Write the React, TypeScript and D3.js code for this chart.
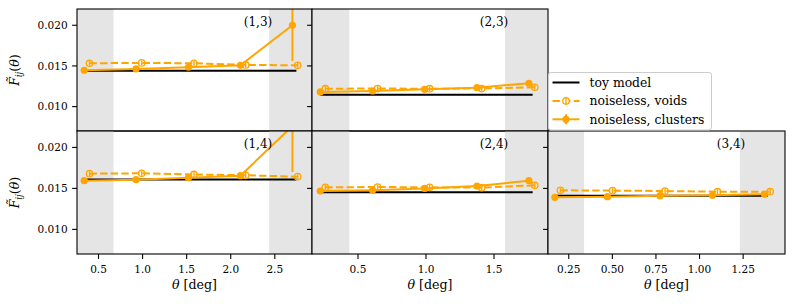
import React from "react";
import * as d3 from "d3";

// theta bins [deg], one array per column of panels
const thetaClusters = [
  [0.338, 0.926, 1.52, 2.11, 2.7],
  [0.223, 0.607, 0.99, 1.375, 1.757],
  [0.17, 0.472, 0.773, 1.074, 1.372],
];
const thetaVoids = [
  [0.398, 0.99, 1.583, 2.17, 2.76],
  [0.26, 0.644, 1.027, 1.41, 1.8],
  [0.202, 0.501, 0.802, 1.103, 1.405],
];
const thetaToy = [
  [0.31, 0.926, 1.52, 2.11, 2.745],
  [0.223, 0.607, 0.99, 1.375, 1.784],
  [0.17, 0.472, 0.773, 1.074, 1.392],
];

// panels, in order: (1,3) (2,3) (1,4) (2,4) (3,4)
const panelNames = ["(1,3)", "(2,3)", "(1,4)", "(2,4)", "(3,4)"];
const panelRow = [0, 0, 1, 1, 1];
const panelCol = [0, 1, 0, 1, 2];

const clusters = [
  [0.01447, 0.01463, 0.01484, 0.01508, 0.02],
  [0.0118, 0.01192, 0.01213, 0.01233, 0.01287],
  [0.01594, 0.01606, 0.0163, 0.01655, 0.0226],
  [0.01468, 0.01477, 0.015, 0.01529, 0.01594],
  [0.01391, 0.01399, 0.01411, 0.01416, 0.01428],
];
const clustersErr = [
  [0.0002, 0.0002, 0.0002, 0.0002, 0.0044],
  [0.0002, 0.0002, 0.0002, 0.0002, 0.0003],
  [0.0002, 0.0002, 0.0002, 0.0002, 0.0056],
  [0.0002, 0.0002, 0.0002, 0.0002, 0.0003],
  [0.0002, 0.0002, 0.0002, 0.0002, 0.0002],
];
const voids = [
  [0.01533, 0.01537, 0.01533, 0.01512, 0.01508],
  [0.0122, 0.01222, 0.0122, 0.01222, 0.01238],
  [0.0168, 0.01684, 0.0167, 0.0166, 0.01643],
  [0.01513, 0.01517, 0.01513, 0.01509, 0.01538],
  [0.01477, 0.01473, 0.01468, 0.0146, 0.0146],
];
const voidsErr = [
  [0.0003, 0.0003, 0.0003, 0.0003, 0.0003],
  [0.0003, 0.0003, 0.0003, 0.0003, 0.0003],
  [0.0003, 0.0003, 0.0003, 0.0003, 0.0003],
  [0.0003, 0.0003, 0.0003, 0.0003, 0.0003],
  [0.0003, 0.0003, 0.0003, 0.0003, 0.0003],
];
const toyModel = [
  [0.01442, 0.01442, 0.01442, 0.01442, 0.01442],
  [0.01147, 0.01147, 0.01147, 0.01147, 0.01147],
  [0.0161, 0.0161, 0.0161, 0.0161, 0.0161],
  [0.01452, 0.01452, 0.01452, 0.01452, 0.01452],
  [0.0141, 0.0141, 0.0141, 0.0141, 0.0141],
];

const xDomains = [
  [0.256, 2.922],
  [0.162, 1.897],
  [0.131, 1.49],
];
const xTicks = [
  [0.5, 1.0, 1.5, 2.0, 2.5],
  [0.5, 1.0, 1.5],
  [0.25, 0.5, 0.75, 1.0, 1.25],
];
const xTickFormat = [".1f", ".1f", ".2f"];
// grey bands: scales outside these cuts are excluded
const shadeCuts = [
  [0.67, 2.436],
  [0.436, 1.581],
  [0.338, 1.231],
];
const yDomain = [0.007, 0.022];
const yTicks = [0.01, 0.015, 0.02];
const legendLabels = ["toy model", "noiseless, voids", "noiseless, clusters"];

const W = 793;
const H = 304;
const colX = [77, 312, 548, 785];
const rowY = [9, 131, 254];
const ORANGE = "#ffa500";
const SHADE = "#e5e5e5";
const FONT = "DejaVu Serif";
const TICK = 4.9;

const Panel = ({ i }: { i: number }) => {
  const r = panelRow[i];
  const c = panelCol[i];
  const x0 = colX[c], x1 = colX[c + 1], y0 = rowY[r], y1 = rowY[r + 1];
  const x = d3.scaleLinear().domain(xDomains[c]).range([x0, x1]);
  const y = d3.scaleLinear().domain(yDomain).range([y1, y0]);
  const line = d3
    .line<number[]>()
    .x(d => x(d[0]))
    .y(d => y(d[1]));
  const clipId = `clip-${i}`;
  const fmtX = d3.format(xTickFormat[c]);
  const fmtY = d3.format(".3f");

  const toyPts = thetaToy[c].map((t, k) => [t, toyModel[i][k]]);
  const voidPts = thetaVoids[c].map((t, k) => [t, voids[i][k], voidsErr[i][k]]);
  const clPts = thetaClusters[c].map((t, k) => [t, clusters[i][k], clustersErr[i][k]]);

  return (
    <g>
      <defs>
        <clipPath id={clipId}>
          <rect x={x0} y={y0} width={x1 - x0} height={y1 - y0} />
        </clipPath>
      </defs>
      <g clipPath={`url(#${clipId})`}>
        <rect x={x0} y={y0} width={x(shadeCuts[c][0]) - x0} height={y1 - y0} fill={SHADE} />
        <rect x={x(shadeCuts[c][1])} y={y0} width={x1 - x(shadeCuts[c][1])} height={y1 - y0} fill={SHADE} />

        <path d={line(toyPts) || ""} fill="none" stroke="#000" strokeWidth={2} />

        {/* voids */}
        {voidPts.map((d, k) => (
          <line key={`ve${k}`} x1={x(d[0])} x2={x(d[0])} y1={y(d[1] - d[2])} y2={y(d[1] + d[2])} stroke={ORANGE} strokeWidth={1.4} />
        ))}
        <path d={line(voidPts) || ""} fill="none" stroke={ORANGE} strokeWidth={2} strokeDasharray="7.4,3.2" />
        {voidPts.map((d, k) => (
          <circle key={`vm${k}`} cx={x(d[0])} cy={y(d[1])} r={3.2} fill="none" stroke={ORANGE} strokeWidth={1.3} />
        ))}

        {/* clusters */}
        {clPts.map((d, k) => (
          <line key={`ce${k}`} x1={x(d[0])} x2={x(d[0])} y1={y(d[1] - d[2])} y2={y(d[1] + d[2])} stroke={ORANGE} strokeWidth={2} />
        ))}
        <path d={line(clPts) || ""} fill="none" stroke={ORANGE} strokeWidth={2} />
        {clPts.map((d, k) => (
          <circle key={`cm${k}`} cx={x(d[0])} cy={y(d[1])} r={3.6} fill={ORANGE} />
        ))}
      </g>

      <text x={x1 - 54} y={y0 + 17} textAnchor="middle" fontFamily={FONT} fontSize={12} fill="#000">
        {panelNames[i]}
      </text>

      {/* y ticks */}
      {yTicks.map(t => (
        <g key={`yt${t}`}>
          <line x1={x0 - TICK} x2={x0} y1={y(t)} y2={y(t)} stroke="#000" strokeWidth={1.1} />
          {c === 0 && (
            <text x={x0 - TICK - 4.5} y={y(t)} dy="0.36em" textAnchor="end" fontFamily={FONT} fontSize={10.5} fill="#000">
              {fmtY(t)}
            </text>
          )}
        </g>
      ))}

      {/* x ticks on bottom row */}
      {r === 1 &&
        xTicks[c].map(t => (
          <g key={`xt${t}`}>
            <line x1={x(t)} x2={x(t)} y1={y1} y2={y1 + TICK} stroke="#000" strokeWidth={1.1} />
            <text x={x(t)} y={y1 + 19} textAnchor="middle" fontFamily={FONT} fontSize={10.5} fill="#000">
              {fmtX(t)}
            </text>
          </g>
        ))}

      {r === 1 && (
        <text x={(x0 + x1) / 2} y={y1 + 35} textAnchor="middle" fontFamily={FONT} fontSize={12.6} fill="#000">
          <tspan fontStyle="italic">θ</tspan> [deg]
        </text>
      )}

      {c === 0 && (
        <text
          transform={`translate(19,${(y0 + y1) / 2}) rotate(-90)`}
          textAnchor="middle"
          fontFamily={FONT}
          fontSize={12.6}
          fill="#000"
        >
          <tspan fontStyle="italic">F</tspan>
          <tspan fontStyle="italic" dx="-6.6" dy="-3.5">{"\u02DC"}</tspan>
          <tspan fontStyle="italic" fontSize={9} dy="6.5">ij</tspan>
          <tspan dy="-3">(</tspan>
          <tspan fontStyle="italic">θ</tspan>
          <tspan>)</tspan>
        </text>
      )}

      <rect x={x0} y={y0} width={x1 - x0} height={y1 - y0} fill="none" stroke="#000" strokeWidth={1.1} />
    </g>
  );
};

const Legend = () => {
  const lx = 548.5;
  const ly = 72.5;
  const rowH = 18.4;
  const hx0 = lx + 4;
  const hx1 = lx + 31;
  const hxm = (hx0 + hx1) / 2;
  return (
    <g>
      <rect x={lx} y={ly} width={163} height={57.5} rx={2.5} fill="#fff" fillOpacity={0.85} stroke="#cccccc" strokeWidth={1} />
      {legendLabels.map((lab, k) => {
        const yy = ly + 10 + k * rowH;
        return (
          <g key={lab}>
            {k === 0 && <line x1={hx0} x2={hx1} y1={yy} y2={yy} stroke="#000" strokeWidth={2} />}
            {k === 1 && (
              <g>
                <line x1={hx0} x2={hx1} y1={yy} y2={yy} stroke={ORANGE} strokeWidth={2} strokeDasharray="7.4,3.2" />
                <line x1={hxm} x2={hxm} y1={yy - 4} y2={yy + 4} stroke={ORANGE} strokeWidth={1.4} />
                <circle cx={hxm} cy={yy} r={3.2} fill="#fff" stroke={ORANGE} strokeWidth={1.3} />
                <line x1={hxm} x2={hxm} y1={yy - 3} y2={yy + 3} stroke={ORANGE} strokeWidth={1.4} />
              </g>
            )}
            {k === 2 && (
              <g>
                <line x1={hx0} x2={hx1} y1={yy} y2={yy} stroke={ORANGE} strokeWidth={2} />
                <line x1={hxm} x2={hxm} y1={yy - 5} y2={yy + 5} stroke={ORANGE} strokeWidth={2} />
                <circle cx={hxm} cy={yy} r={3.6} fill={ORANGE} />
              </g>
            )}
            <text x={lx + 41} y={yy} dy="0.36em" fontFamily={FONT} fontSize={12.4} fill="#000">
              {lab}
            </text>
          </g>
        );
      })}
    </g>
  );
};

export default function App() {
  return (
    <svg
      width={W}
      height={H}
      viewBox={`0 0 ${W} ${H}`}
      style={{ position: "absolute", left: 0, top: 0, background: "#fff" }}
    >
      {panelNames.map((_, i) => (
        <Panel key={i} i={i} />
      ))}
      <Legend />
    </svg>
  );
}
